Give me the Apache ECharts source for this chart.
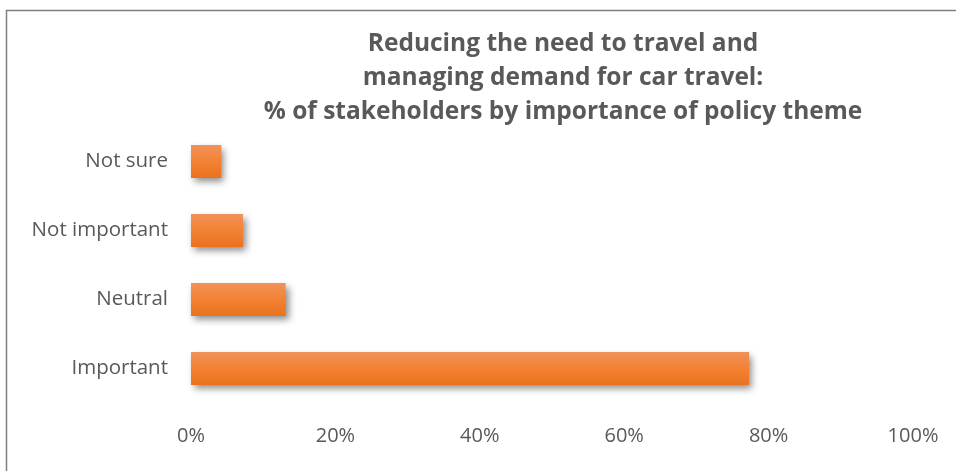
<!DOCTYPE html>
<html>
<head>
<meta charset="utf-8">
<script src="https://cdn.jsdelivr.net/npm/echarts@6/dist/echarts.min.js"></script>
<style>
  html, body { margin: 0; padding: 0; background: #ffffff; }
  #chart { width: 956px; height: 471px; }
</style>
</head>
<body>
<div id="chart"></div>
<script>
// Response categories, listed bottom to top on the category axis
const categories = ['Important', 'Neutral', 'Not important', 'Not sure'];
// Share of stakeholders (%) for each category
const shares = [77.3, 13.1, 7.2, 4.2];
// Value axis tick settings
const axisMin = 0;
const axisMax = 100;
const axisStep = 20;

const titleLines = [
  'Reducing the need to travel and',
  'managing demand for car travel:',
  '% of stakeholders by importance of policy theme'
];

const textColor = '#595959';
const fontFamily = '"Open Sans", "Noto Sans", sans-serif';

const chart = echarts.init(document.getElementById('chart'));

chart.setOption({
  backgroundColor: '#ffffff',
  animation: false,
  title: {
    text: titleLines.join('\n'),
    left: 558,
    textAlign: 'center',
    top: 22,
    textStyle: {
      color: textColor,
      fontFamily: fontFamily,
      fontSize: 24.5,
      fontWeight: 'bold',
      lineHeight: 34
    }
  },
  grid: {
    left: 191,
    right: 43,
    top: 127,
    bottom: 68,
    containLabel: false
  },
  xAxis: {
    type: 'value',
    min: axisMin,
    max: axisMax,
    interval: axisStep,
    axisLine: { show: false },
    axisTick: { show: false },
    splitLine: { show: false },
    axisLabel: {
      formatter: '{value}%',
      color: textColor,
      fontFamily: fontFamily,
      fontSize: 20,
      margin: 23
    }
  },
  yAxis: {
    type: 'category',
    data: categories,
    axisLine: { show: false },
    axisTick: { show: false },
    splitLine: { show: false },
    axisLabel: {
      color: textColor,
      fontFamily: fontFamily,
      fontSize: 20.5,
      margin: 23
    }
  },
  series: [{
    type: 'bar',
    data: shares,
    barCategoryGap: '52%',
    itemStyle: {
      color: new echarts.graphic.LinearGradient(0, 0, 0, 1, [
        { offset: 0, color: '#F19259' },
        { offset: 0.5, color: '#F38233' },
        { offset: 1, color: '#E8721F' }
      ]),
      shadowColor: 'rgba(0, 0, 0, 0.45)',
      shadowBlur: 7,
      shadowOffsetX: 3,
      shadowOffsetY: 4
    }
  }],
  graphic: [
    {
      type: 'polyline',
      shape: { points: [[6.5, 471], [6.5, 10.5], [956, 10.5]] },
      style: { stroke: '#7f7f7f', lineWidth: 1.5, fill: null },
      silent: true
    }
  ]
});
</script>
</body>
</html>
